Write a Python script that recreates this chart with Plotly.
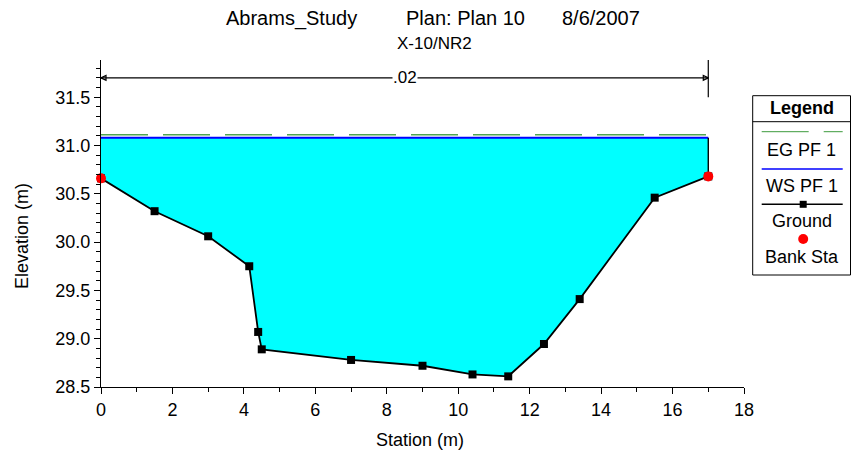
import plotly.graph_objects as go

# ---------------- data ----------------
station = [0.0, 1.5, 3.0, 4.15, 4.4, 4.5, 7.0, 9.0, 10.4, 11.4, 12.4, 13.4, 15.5, 17.0]
ground = [30.66, 30.32, 30.06, 29.75, 29.07, 28.89, 28.78, 28.72, 28.63, 28.61, 28.945, 29.41, 30.46, 30.68]
bank_sta = [0.0, 17.0]
bank_elev = [30.66, 30.68]
ws_elev = 31.08
eg_elev = 31.11
mann_n = [".02"]
n_bounds = [0.0, 17.0]

title_parts = ["Abrams_Study", "Plan: Plan 10", "8/6/2007"]
subtitle = "X-10/NR2"
legend_labels = ["EG PF 1", "WS PF 1", "Ground", "Bank Sta"]

# ---------------- layout constants (page pixel coords) ----------------
W, H = 852, 457
L, R, T, B = 101, 744, 60, 387
X_RANGE = [0, 18]
Y_RANGE = [28.5, 28.5 + (B - T) / 96.6]
DIM_Y = 31.70
FONT = "Liberation Sans, Arial, sans-serif"


def px(x):
    return (x - L) / (R - L)


def py(y):
    return (B - y) / (B - T)


fig = go.Figure()

x_lo, x_hi = station[0], station[-1]

# water fill (between ground and water surface)
fig.add_trace(go.Scatter(
    x=station + [x_hi, x_lo], y=ground + [ws_elev, ws_elev],
    fill="toself", fillcolor="#00ffff", mode="none", hoverinfo="skip"))

# energy grade line
fig.add_trace(go.Scatter(
    x=[x_lo, x_hi], y=[eg_elev, eg_elev], mode="lines",
    line=dict(color="#4ea64e", width=1.5, dash="47px,15px")))

# water surface
fig.add_trace(go.Scatter(
    x=[x_lo, x_hi], y=[ws_elev, ws_elev], mode="lines",
    line=dict(color="#0000ff", width=1.8)))

# end wall of ground up to water surface
fig.add_trace(go.Scatter(
    x=[x_hi, x_hi], y=[ground[-1], ws_elev], mode="lines",
    line=dict(color="black", width=1.4)))

# ground
fig.add_trace(go.Scatter(
    x=station, y=ground, mode="lines+markers",
    line=dict(color="black", width=1.8),
    marker=dict(symbol="square", size=8, color="black"),
    cliponaxis=False))

# bank stations
fig.add_trace(go.Scatter(
    x=bank_sta, y=bank_elev, mode="markers",
    marker=dict(symbol="circle", size=10, color="#ff0000"),
    cliponaxis=False))

# Manning's n dimension line
fig.add_trace(go.Scatter(
    x=n_bounds, y=[DIM_Y, DIM_Y], mode="lines",
    line=dict(color="black", width=1.2), cliponaxis=False))
fig.add_trace(go.Scatter(
    x=[n_bounds[0]], y=[DIM_Y], mode="markers",
    marker=dict(symbol="arrow-left-open", size=5, color="black",
                line=dict(color="black", width=1.2)), cliponaxis=False))
fig.add_trace(go.Scatter(
    x=[n_bounds[1]], y=[DIM_Y], mode="markers",
    marker=dict(symbol="arrow-right-open", size=5, color="black",
                line=dict(color="black", width=1.2)), cliponaxis=False))
fig.add_trace(go.Scatter(
    x=[n_bounds[1], n_bounds[1]], y=[31.5, Y_RANGE[1]], mode="lines",
    line=dict(color="black", width=1.2), cliponaxis=False))

annotations = []
annotations.append(dict(
    x=(n_bounds[0] + n_bounds[1]) / 2, y=DIM_Y, xref="x", yref="y",
    text=mann_n[0], showarrow=False, bgcolor="white",
    font=dict(family=FONT, size=17, color="black"),
    xanchor="center", yanchor="middle", borderpad=0))

# titles
for txt, cx in zip(title_parts, [291, 466, 601]):
    annotations.append(dict(
        x=px(cx), y=py(18), xref="paper", yref="paper", text=txt,
        showarrow=False, xanchor="center", yanchor="middle",
        font=dict(family=FONT, size=20, color="black")))
annotations.append(dict(
    x=px(434), y=py(44), xref="paper", yref="paper", text=subtitle,
    showarrow=False, xanchor="center", yanchor="middle",
    font=dict(family=FONT, size=17, color="black")))

# axis titles
annotations.append(dict(
    x=px(420), y=py(440), xref="paper", yref="paper", text="Station (m)",
    showarrow=False, xanchor="center", yanchor="middle",
    font=dict(family=FONT, size=18, color="black")))
annotations.append(dict(
    x=px(22), y=py(236), xref="paper", yref="paper", text="Elevation (m)",
    showarrow=False, xanchor="center", yanchor="middle", textangle=-90,
    font=dict(family=FONT, size=18, color="black")))

# ---------------- custom legend ----------------
shapes = []
LX0, LX1, LY0, LY1 = 752.7, 850.5, 95.7, 275
shapes.append(dict(type="rect", xref="paper", yref="paper",
                   x0=px(LX0), x1=px(LX1), y0=py(LY1), y1=py(LY0),
                   line=dict(color="black", width=1), fillcolor="white", layer="above"))
shapes.append(dict(type="line", xref="paper", yref="paper",
                   x0=px(LX0), x1=px(LX1), y0=py(121.7), y1=py(121.7),
                   line=dict(color="black", width=1), layer="above"))
annotations.append(dict(
    x=px(801.7), y=py(107.5), xref="paper", yref="paper", text="<b>Legend</b>",
    showarrow=False, xanchor="center", yanchor="middle",
    font=dict(family=FONT, size=18, color="black")))

SX0, SX1, SXM = 761.7, 842.7, 803.2
shapes.append(dict(type="line", xref="paper", yref="paper",
                   x0=px(SX0), x1=px(SX1), y0=py(131.7), y1=py(131.7),
                   line=dict(color="#3d9a3d", width=1, dash="47px,15px"), layer="above"))
shapes.append(dict(type="line", xref="paper", yref="paper",
                   x0=px(SX0), x1=px(SX1), y0=py(169), y1=py(169),
                   line=dict(color="#0000ff", width=1.5), layer="above"))
shapes.append(dict(type="line", xref="paper", yref="paper",
                   x0=px(SX0), x1=px(SX1), y0=py(204.3), y1=py(204.3),
                   line=dict(color="black", width=1.5), layer="above"))
shapes.append(dict(type="rect", xref="paper", yref="paper",
                   x0=px(SXM - 3.5), x1=px(SXM + 3.5), y0=py(204.3 + 3.5), y1=py(204.3 - 3.5),
                   line=dict(width=0), fillcolor="black", layer="above"))
shapes.append(dict(type="circle", xref="paper", yref="paper",
                   x0=px(SXM - 5), x1=px(SXM + 5), y0=py(239 + 5), y1=py(239 - 5),
                   line=dict(width=0), fillcolor="#ff0000", layer="above"))

for txt, yy in zip(legend_labels, [150, 186, 220.5, 256.7]):
    annotations.append(dict(
        x=px(801.7), y=py(yy), xref="paper", yref="paper", text=txt,
        showarrow=False, xanchor="center", yanchor="middle",
        font=dict(family=FONT, size=18, color="black")))

fig.update_layout(
    width=W, height=H,
    margin=dict(l=L, r=W - R, t=T, b=H - B, pad=0),
    paper_bgcolor="white", plot_bgcolor="white",
    showlegend=False,
    font=dict(family=FONT, size=17, color="black"),
    annotations=annotations, shapes=shapes,
)
fig.update_xaxes(
    range=X_RANGE, dtick=2, tick0=0, showgrid=False, zeroline=False,
    showline=True, linecolor="black", linewidth=1,
    ticks="outside", ticklen=6, tickcolor="black", tickwidth=1,
    tickfont=dict(family=FONT, size=18),
    minor=dict(dtick=1, ticks="outside", ticklen=4, tickcolor="black", showgrid=False),
)
fig.update_yaxes(
    range=Y_RANGE, dtick=0.5, tick0=28.5, tickformat=".1f", showgrid=False, zeroline=False,
    showline=True, linecolor="black", linewidth=1,
    ticks="outside", ticklen=6, tickcolor="black", tickwidth=1,
    tickfont=dict(family=FONT, size=18),
    minor=dict(dtick=0.1, ticks="outside", ticklen=4, tickcolor="black", showgrid=False),
)

fig.write_html(
    "out.html",
    config={"displayModeBar": False},
    post_script="document.body.style.margin='0';document.body.style.padding='0';",
)
